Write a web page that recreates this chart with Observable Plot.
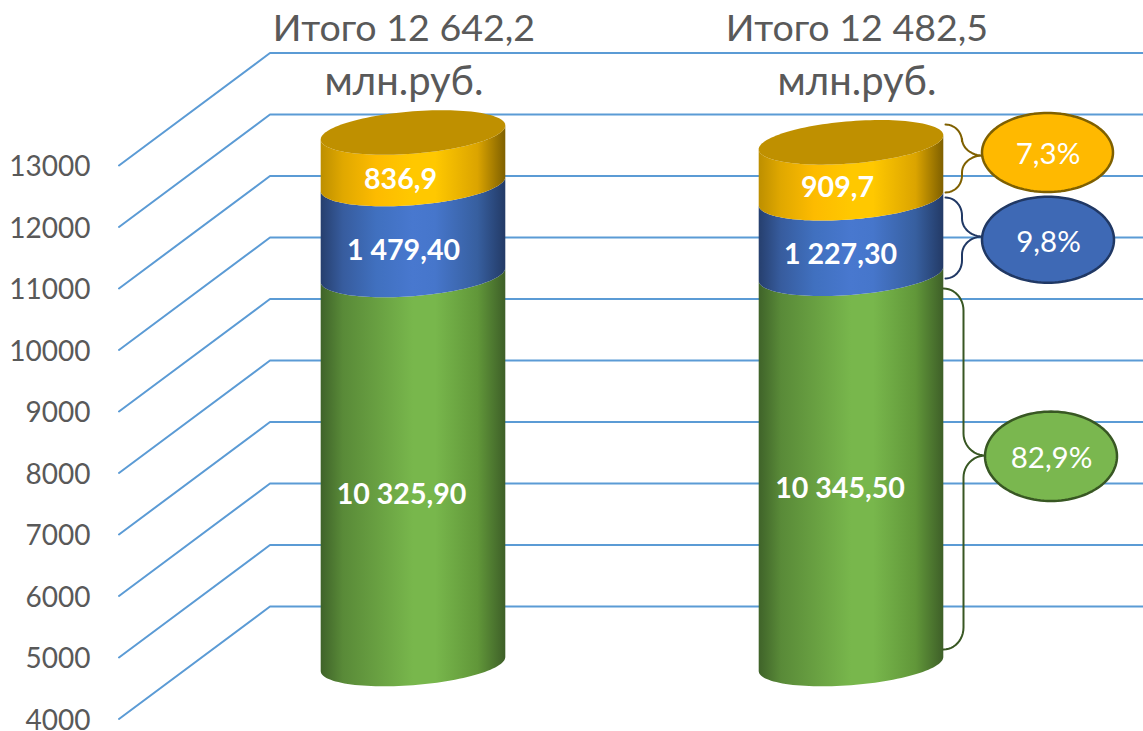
<!DOCTYPE html>
<html lang="ru">
<head>
<meta charset="utf-8">
<style>html,body{margin:0;padding:0;background:#fff}svg{display:block}</style>
<script src="https://cdn.jsdelivr.net/npm/d3@7"></script>
<script src="https://cdn.jsdelivr.net/npm/@observablehq/plot@0.6"></script>
</head>
<body>
<div id="chart"></div>
<script>
// ---- data ----
const totals = ["Итого 12 642,2", "Итого 12 482,5"];
const unitLabel = "млн.руб.";
const greenValues = [10325.9, 10345.5];
const blueValues = [1479.4, 1227.3];
const orangeValues = [836.9, 909.7];
const greenLabels = ["10 325,90", "10 345,50"];
const blueLabels = ["1 479,40", "1 227,30"];
const orangeLabels = ["836,9", "909,7"];
const shareLabels = ["7,3%", "9,8%", "82,9%"];
const axisTicks = [4000, 5000, 6000, 7000, 8000, 9000, 10000, 11000, 12000, 13000];

// ---- layout ----
const FONT = "Lato, 'Open Sans', sans-serif";
const pxPerUnit = 61.5 / 1000;
const px = (p) => p / pxPerUnit;               // pixel length → value units
const valueAt = (p) => 4000 + px(718.5 - p);    // pixel row → value
const depth = px(54.5), backDepth = px(112.5);
const cx = [413, 851], rx = 92.3, ry = 21.2, tilt = 7;
const frontX = 118.5, backX = 269.5, right = 1143;

const angles = d3.range(0, 61).map((i) => (Math.PI * i) / 60);
const lower = (c, v) => angles.map((t) => ({
  x: c + rx * Math.cos(t),
  y: v + depth - px(ry * Math.sin(t) - tilt * Math.cos(t))
}));
const band = (c, lo, hi) => {
  const a = lower(c, lo), b = lower(c, hi);
  return a.map((d, i) => ({x: d.x, y1: d.y, y2: b[i].y}));
};
const cap = (c, v) => angles.map((t) => ({
  x: c + rx * Math.cos(t),
  y1: v + depth - px(ry * Math.sin(t) - tilt * Math.cos(t)),
  y2: v + depth - px(-ry * Math.sin(t) - tilt * Math.cos(t))
}));
const oval = (c, cyPx, a, b) => angles.map((t) => ({
  x: c + a * Math.cos(t),
  y1: valueAt(cyPx + b * Math.sin(t)),
  y2: valueAt(cyPx - b * Math.sin(t))
}));
const brace = (x0, top, bottom, xm, xt, tip, r) => {
  const q = d3.range(0, 13).map((i) => (Math.PI / 2) * i / 12);
  const pts = [];
  q.forEach((a) => pts.push([x0 + (xm - x0) * Math.sin(a), top + r * (1 - Math.cos(a))]));
  q.forEach((a) => pts.push([xm + (xt - xm) * (1 - Math.cos(a)), tip - r + r * Math.sin(a)]));
  q.slice().reverse().forEach((a) => pts.push([xm + (xt - xm) * (1 - Math.cos(a)), tip + r - r * Math.sin(a)]));
  q.slice().reverse().forEach((a) => pts.push([x0 + (xm - x0) * Math.sin(a), bottom - r * (1 - Math.cos(a))]));
  return pts.map(([x, y]) => ({x, y: valueAt(y)}));
};
const gradient = (id, stops) =>
  `<linearGradient id="${id}" x1="0" x2="1" y1="0" y2="0">` +
  stops.map(([o, c]) => `<stop offset="${o}" stop-color="${c}"/>`).join("") + `</linearGradient>`;
const defsMark = () => {
  const g = d3.create("svg:defs");
  g.html(
    gradient("gGreen", [[0, "#3f6329"], [0.12, "#598a38"], [0.3, "#689f41"], [0.5, "#78b74c"], [0.62, "#78b74c"], [0.85, "#619739"], [1, "#3e5f28"]]) +
    gradient("gBlue", [[0, "#263f6e"], [0.12, "#375c9e"], [0.3, "#4070bf"], [0.5, "#4878cf"], [0.62, "#4676cb"], [0.85, "#375f9f"], [1, "#233a66"]]) +
    gradient("gOrange", [[0, "#bd8f00"], [0.12, "#e0a800"], [0.3, "#fdbb00"], [0.5, "#ffc800"], [0.62, "#ffc800"], [0.85, "#dba400"], [1, "#7f6000"]])
  );
  return g.node();
};

// ---- marks ----
const gridMarks = axisTicks.map((v) => Plot.line(
  [{x: frontX, y: v}, {x: backX, y: v + backDepth}, {x: right, y: v + backDepth}],
  {x: "x", y: "y", stroke: "#5b9bd5", strokeWidth: 2}
));
const cylinderMarks = cx.flatMap((c, i) => {
  const g = greenValues[i], b = g + blueValues[i], o = b + orangeValues[i];
  return [
    Plot.area(band(c, 4000, g), {x1: "x", y1: "y1", y2: "y2", fill: "url(#gGreen)"}),
    Plot.area(band(c, g, b), {x1: "x", y1: "y1", y2: "y2", fill: "url(#gBlue)"}),
    Plot.area(band(c, b, o), {x1: "x", y1: "y1", y2: "y2", fill: "url(#gOrange)"}),
    Plot.area(cap(c, o), {x1: "x", y1: "y1", y2: "y2", fill: "#bf9000"})
  ];
});
const bold = {fill: "#fff", fontWeight: 700, fontSize: 28.6, fontFamily: FONT};
const rowText = (labels, rows, xs, opts) => Plot.text(
  labels.map((t, i) => ({t, x: xs[i], y: valueAt(rows[i])})),
  {x: "x", y: "y", text: "t", ...opts}
);
const callouts = [
  {text: shareLabels[0], c: 1047.5, y: 152.5, a: 65.5, b: 39.5, fill: "#ffb900", stroke: "#7f6000", brace: [945, 124, 192, 961.5, 982, 155, 17]},
  {text: shareLabels[1], c: 1048, y: 239.7, a: 66, b: 43, fill: "#3e69b5", stroke: "#203864", brace: [945, 197, 278, 961.5, 982, 236, 18]},
  {text: shareLabels[2], c: 1051, y: 456.3, a: 66, b: 44.7, fill: "#7ab74f", stroke: "#385723", brace: [943, 288, 649, 963, 985, 455, 22]}
];
const calloutMarks = callouts.flatMap((d) => [
  Plot.line(brace(...d.brace), {x: "x", y: "y", stroke: d.stroke, strokeWidth: 2}),
  Plot.area(oval(d.c, d.y, d.a, d.b), {x1: "x", y1: "y1", y2: "y2", fill: d.fill, stroke: d.stroke, strokeWidth: 2.5}),
  Plot.text([{x: d.c, y: valueAt(d.y + 2)}], {x: "x", y: "y", text: () => d.text, fill: "#fff", fontSize: 29.5, fontFamily: FONT})
]);

const chart = Plot.plot({
  width: 1143,
  height: 731,
  marginLeft: 90,
  marginRight: 0,
  marginTop: 0,
  marginBottom: 0,
  style: {background: "#fff", overflow: "visible"},
  x: {domain: [90, 1143], range: [90, 1143], axis: null},
  y: {domain: [4000, 13000], range: [718.5, 165], axis: null},
  marks: [
    defsMark,
    ...gridMarks,
    Plot.axisY(axisTicks, {anchor: "left", tickSize: 0, tickPadding: 0, label: null, fontSize: 28, fontFamily: FONT, color: "#595959", dy: 2, tickFormat: (d) => `${d}`}),
    ...cylinderMarks,
    rowText(greenLabels, [494, 488], [401, 839.5], bold),
    rowText(blueLabels, [250, 254], [403, 840], bold),
    rowText(orangeLabels, [179, 187], [400, 837], bold),
    rowText(totals, [28, 28], [403.5, 856.5], {fill: "#595959", fontSize: 37.6, fontFamily: FONT}),
    rowText([unitLabel, unitLabel], [82, 82], [403.5, 856.5], {fill: "#595959", fontSize: 40, fontFamily: FONT}),
    ...calloutMarks
  ]
});
document.getElementById("chart").append(chart);
</script>
</body>
</html>
